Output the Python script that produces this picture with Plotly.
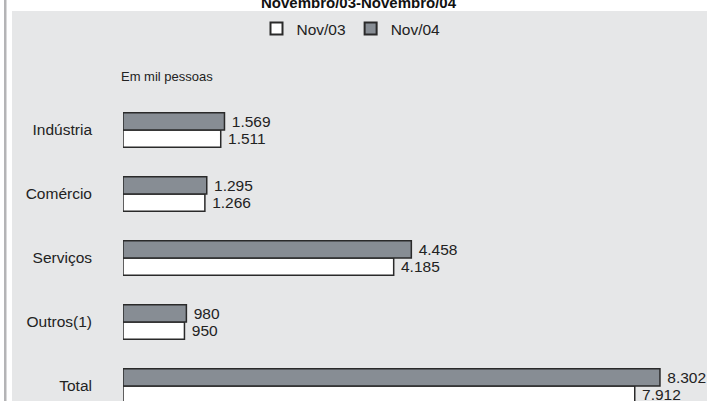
import plotly.graph_objects as go

# Ocupados por setor de atividade (em mil pessoas)
categories = ["Total", "Outros(1)", "Serviços", "Comércio", "Indústria"]
nov03 = [7912, 950, 4185, 1266, 1511]
nov04 = [8302, 980, 4458, 1295, 1569]

title_text = "Novembro/03-Novembro/04"
unit_text = "Em mil pessoas"

FONT = "Liberation Sans, Arial, Helvetica, sans-serif"
PANEL = "#e6e7e8"
EDGE = "#2a2a2a"
TXT = "#222222"

W, H = 707, 401
ML, MR, MT, MB = 123, 0, 90, 0
PW, PH = W - ML - MR, H - MT - MB


def px(x):
    return (x - ML) / PW


def py(y):
    return (H - MB - y) / PH


fig = go.Figure()
fig.add_trace(go.Bar(
    y=categories, x=nov03, name="Nov/03", orientation="h",
    marker=dict(color="#ffffff", line=dict(color=EDGE, width=1.5)),
    texttemplate="\u00a0%{x:,}", textposition="outside",
    textfont=dict(family=FONT, size=15.5, color=TXT),
    cliponaxis=False, constraintext="none",
))
fig.add_trace(go.Bar(
    y=categories, x=nov04, name="Nov/04", orientation="h",
    marker=dict(color="#878d94", line=dict(color=EDGE, width=1.5)),
    texttemplate="\u00a0%{x:,}", textposition="outside",
    textfont=dict(family=FONT, size=15.5, color=TXT),
    cliponaxis=False, constraintext="none",
))

shapes = [
    # white page margin on the left and top of the grey panel
    dict(type="rect", xref="paper", yref="paper", x0=px(-5), x1=px(12),
         y0=py(H + 5), y1=py(-5), fillcolor="#ffffff", line_width=0, layer="below"),
    dict(type="rect", xref="paper", yref="paper", x0=px(-5), x1=px(W + 5),
         y0=py(11), y1=py(-5), fillcolor="#ffffff", line_width=0, layer="below"),
    # vertical rule at the left edge
    dict(type="rect", xref="paper", yref="paper", x0=px(4), x1=px(6.5),
         y0=py(H + 5), y1=py(-5), fillcolor="#b4b4b6", line_width=0, layer="below"),
]

annotations = [
    dict(text=title_text, xref="paper", yref="paper", x=px(359), y=py(3),
         xanchor="center", yanchor="middle", showarrow=False,
         font=dict(family=FONT, size=15, color="#111111", weight="bold")),
    dict(text=unit_text, xref="paper", yref="paper", x=px(119), y=py(77),
         xanchor="left", yanchor="middle", showarrow=False,
         font=dict(family=FONT, size=13, color=TXT)),
]

fig.update_layout(
    width=W, height=H,
    margin=dict(l=ML, r=MR, t=MT, b=MB, pad=0),
    paper_bgcolor=PANEL, plot_bgcolor=PANEL,
    barmode="group", bargap=0.46, bargroupgap=0.0,
    separators=",.",
    font=dict(family=FONT, size=15.5, color=TXT),
    showlegend=True,
    legend=dict(orientation="h", x=px(351), y=py(29), xanchor="center",
                yanchor="middle", bgcolor="rgba(0,0,0,0)",
                font=dict(family=FONT, size=15.5, color=TXT),
                itemsizing="constant", traceorder="normal"),
    xaxis=dict(range=[0, PW / 0.06468], visible=False, fixedrange=True),
    yaxis=dict(type="category", categoryorder="array", categoryarray=categories,
               range=[-15 / 64, 4 + 40 / 64], showgrid=False, zeroline=False,
               showline=False, ticks="", ticklabelstandoff=30,
               tickfont=dict(family=FONT, size=15.5, color=TXT)),
    shapes=shapes, annotations=annotations,
)

fig.write_html("out.html")
